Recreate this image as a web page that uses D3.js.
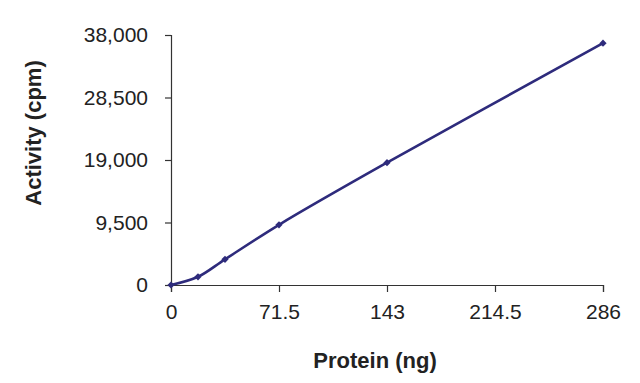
<!DOCTYPE html>
<html><head><meta charset="utf-8">
<script src="https://cdn.jsdelivr.net/npm/d3@7"></script>
<style>body{margin:0;background:#fff}svg{display:block}</style>
</head><body>
<script>
const xValues = [0, 17.875, 35.75, 71.5, 143, 286];
const yValues = [0, 1250, 3900, 9150, 18600, 36750];
const xTicks = [0, 71.5, 143, 214.5, 286];
const yTicks = [0, 9500, 19000, 28500, 38000];
const xTitle = "Protein (ng)";
const yTitle = "Activity (cpm)";

const W = 640, H = 383;
const svg = d3.select("body").append("svg").attr("width", W).attr("height", H);
const x = d3.scaleLinear().domain([0, 286]).range([171, 603]);
const y = d3.scaleLinear().domain([0, 38000]).range([285, 35]);
const axisColor = "#333";
const font = "Liberation Sans, Arial, sans-serif";

const xa = svg.append("g").attr("transform", "translate(0,285)")
  .call(d3.axisBottom(x).tickValues(xTicks).tickSizeOuter(0).tickSize(7).tickPadding(12)
    .tickFormat(d => d3.format(",")(d)));
const ya = svg.append("g").attr("transform", "translate(171,0)")
  .call(d3.axisLeft(y).tickValues(yTicks).tickSizeOuter(0).tickSize(6).tickPadding(17)
    .tickFormat(d3.format(",")));
[xa, ya].forEach(g => {
  g.select(".domain").attr("stroke", axisColor).attr("stroke-width", 1.2);
  g.selectAll(".tick line").attr("stroke", axisColor).attr("stroke-width", 1.2);
  g.selectAll(".tick text").attr("fill", "#222").style("font-family", font).style("font-size", "21px");
});

const data = xValues.map((v, i) => [v, yValues[i]]);
const color = "#2e2b7c";
svg.append("path").datum(data)
  .attr("fill", "none").attr("stroke", color).attr("stroke-width", 2.6)
  .attr("d", d3.line().x(d => x(d[0])).y(d => y(d[1])).curve(d3.curveCatmullRom.alpha(0.5)));
svg.selectAll("path.pt").data(data).enter().append("path")
  .attr("class", "pt")
  .attr("transform", d => `translate(${x(d[0])},${y(d[1])}) rotate(45)`)
  .attr("d", d3.symbol().type(d3.symbolSquare).size(26))
  .attr("fill", color);

svg.append("text").attr("x", 375).attr("y", 368).attr("text-anchor", "middle")
  .style("font-family", font).style("font-size", "22px").style("font-weight", "bold")
  .attr("fill", "#222").text(xTitle);
svg.append("text").attr("transform", "translate(41,133) rotate(-90)").attr("text-anchor", "middle")
  .style("font-family", font).style("font-size", "22px").style("font-weight", "bold")
  .attr("fill", "#222").text(yTitle);
</script>
</body></html>
